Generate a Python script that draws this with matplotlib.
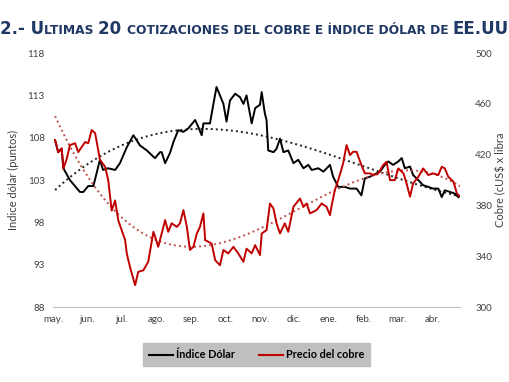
#!/usr/bin/env python3

# Ultimas cotizaciones del cobre e indice dolar: dos ejes Y, lineas de tendencia
# polinomicas punteadas (como las de Excel) y titulo en versalitas.

import numpy as np
import matplotlib
matplotlib.use("Agg")
import matplotlib.pyplot as plt
from matplotlib.lines import Line2D

MESES = ["may.", "jun.", "jul.", "ago.", "sep.", "oct.",
         "nov.", "dic.", "ene.", "feb.", "mar.", "abr."]

# posicion en meses desde el 1 de mayo, valor en puntos
# (los primeros dias quedan tapados por la linea del cobre)
dolar_mes = [0.06, 0.15, 0.25, 0.30, 0.49, 0.78, 0.88, 1.02, 1.17, 1.36, 1.45,
             1.59, 1.80, 1.94, 2.14, 2.33, 2.52, 2.72, 2.90, 2.96, 3.10, 3.15,
             3.25, 3.39, 3.49, 3.63, 3.78, 3.92, 4.12, 4.21, 4.31, 4.36, 4.55,
             4.65, 4.74, 4.84, 4.94, 5.03, 5.13, 5.28, 5.42, 5.52, 5.61, 5.76,
             5.86, 6.00, 6.05, 6.14, 6.19, 6.24, 6.39, 6.48, 6.58, 6.68, 6.82,
             6.97, 7.11, 7.26, 7.40, 7.50, 7.69, 7.84, 8.03, 8.12, 8.27, 8.46,
             8.61, 8.80, 8.94, 9.04, 9.19, 9.28, 9.48, 9.62, 9.72, 9.86, 10.01,
             10.11, 10.20, 10.35, 10.44, 10.59, 10.73, 10.88, 11.02, 11.17,
             11.27, 11.36, 11.51, 11.65, 11.75]
dolar_valor = [107.7, 106.3, 106.7, 104.4, 103.0, 101.6, 101.6, 102.3, 102.3,
               105.4, 104.2, 104.4, 104.2, 105.0, 106.9, 108.3, 107.1, 106.5,
               105.8, 105.6, 106.3, 106.3, 105.0, 106.2, 107.5, 108.9, 108.7,
               109.1, 110.1, 109.3, 108.3, 109.7, 109.7, 112.0, 114.0, 113.0,
               112.0, 109.9, 112.4, 113.2, 112.8, 112.0, 113.0, 109.7, 111.5,
               111.9, 113.4, 110.9, 110.1, 106.5, 106.3, 106.7, 107.9, 106.3,
               106.5, 105.0, 105.4, 104.4, 104.8, 104.2, 104.4, 104.0, 104.8,
               103.4, 102.2, 102.2, 102.0, 102.0, 101.2, 103.2, 103.4, 103.6,
               104.0, 104.8, 105.2, 104.8, 105.2, 105.6, 104.4, 104.6, 103.6,
               103.0, 102.4, 102.2, 102.0, 102.0, 101.0, 101.8, 101.6, 101.4,
               101.0]

# posicion en meses, valor en cUS$ por libra
cobre_mes = [0.06, 0.15, 0.25, 0.30, 0.40, 0.49, 0.64, 0.73, 0.93, 1.02, 1.12,
             1.22, 1.36, 1.51, 1.60, 1.70, 1.80, 1.89, 1.99, 2.09, 2.14, 2.23,
             2.38, 2.47, 2.62, 2.76, 2.91, 2.96, 3.05, 3.15, 3.25, 3.34, 3.44,
             3.59, 3.68, 3.78, 3.88, 3.97, 4.07, 4.17, 4.26, 4.36, 4.41, 4.60,
             4.70, 4.84, 4.94, 5.08, 5.23, 5.37, 5.52, 5.61, 5.76, 5.86, 6.00,
             6.05, 6.19, 6.29, 6.39, 6.48, 6.58, 6.72, 6.82, 6.97, 7.16, 7.26,
             7.35, 7.45, 7.64, 7.79, 7.93, 8.03, 8.08, 8.17, 8.27, 8.41, 8.51,
             8.61, 8.70, 8.80, 8.94, 9.04, 9.19, 9.28, 9.43, 9.57, 9.67, 9.77,
             9.91, 10.01, 10.16, 10.25, 10.35, 10.44, 10.59, 10.73, 10.88,
             11.02, 11.17, 11.27, 11.36, 11.46, 11.61, 11.71, 11.80]
cobre_valor = [431.5, 422.0, 425.0, 409.0, 417.0, 427.6, 429.0, 422.0, 430.0,
               429.0, 439.4, 437.0, 416.0, 410.5, 400.0, 376.0, 384.0, 368.5,
               360.6, 352.8, 342.0, 331.7, 317.3, 327.8, 329.0, 335.7, 359.3,
               355.4, 347.5, 358.0, 368.5, 359.3, 366.0, 363.2, 366.0, 376.4,
               363.2, 345.0, 347.5, 358.0, 363.2, 373.8, 352.8, 350.0, 337.0,
               333.0, 345.0, 342.3, 347.5, 342.3, 335.7, 346.0, 342.3, 348.8,
               341.0, 358.0, 360.6, 381.6, 377.7, 366.0, 358.0, 366.0, 359.3,
               379.0, 385.5, 379.0, 381.6, 373.8, 376.4, 381.6, 379.0, 372.4,
               380.3, 392.0, 400.0, 413.0, 427.6, 419.7, 422.3, 422.3, 411.8,
               405.3, 405.3, 404.0, 405.3, 411.8, 414.4, 400.0, 400.0, 409.2,
               405.3, 397.4, 387.0, 397.4, 402.6, 409.2, 404.0, 405.3, 404.0,
               410.5, 409.2, 402.6, 398.7, 389.5, 387.0]

TITULO = [("2.- U", True), ("LTIMAS ", False), ("20 ", True),
          ("COTIZACIONES DEL COBRE E ÍNDICE DÓLAR DE ", False), ("EE.UU", True)]

AZUL = "#1f3864"
ROJO = "#c00000"
ROJO_TEND = "#c0504d"
GRIS = "#bfbfbf"
TEXTO = "#404040"
FUENTE = ["Lato", "DejaVu Sans"]


# Tendencia polinomica sobre todo el periodo (inicio y fin comunes)
def tendencia(x, y, inicio, fin, grado=3):
	coef = np.polyfit(x, y, grado)
	xs = np.linspace(inicio, fin, 200)
	return xs, np.polyval(coef, xs)


def poner_piezas(fig, piezas, x0, y0, escala):
	renderer = fig.canvas.get_renderer()
	x = x0
	textos = []
	for texto, grande in piezas:
		t = fig.text(x, y0, texto, fontsize=(12.5 if grande else 9.2) * escala,
		             fontweight="bold", color=AZUL, va="baseline",
		             family="DejaVu Sans")
		bb = t.get_window_extent(renderer)
		x += bb.width / fig.bbox.width
		textos.append(t)
	return textos, x - x0


# Dibuja el titulo en versalitas y lo ajusta al ancho disponible
def dibujar_titulo(fig, piezas, x0, y0, ancho):
	textos, total = poner_piezas(fig, piezas, x0, y0, 1.0)
	for t in textos:
		t.remove()
	poner_piezas(fig, piezas, x0, y0, ancho / total)


def main():
	fig = plt.figure(figsize=(5.1, 3.82), dpi=100)
	ax = fig.add_axes([0.104, 0.196, 0.798, 0.665])
	ax2 = ax.twinx()

	ax.plot(dolar_mes, dolar_valor, color="black", lw=1.4, zorder=3)
	ax2.plot(cobre_mes, cobre_valor, color=ROJO, lw=1.4, zorder=3)

	inicio = min(dolar_mes[0], cobre_mes[0])
	fin = max(dolar_mes[-1], cobre_mes[-1])
	xs, ys = tendencia(dolar_mes, dolar_valor, inicio, fin)
	ax.plot(xs, ys, color="#222222", lw=1.4, ls=(0, (1, 1.6)), zorder=2)
	xs, ys = tendencia(cobre_mes, cobre_valor, inicio, fin)
	ax2.plot(xs, ys, color=ROJO_TEND, lw=1.4, ls=(0, (1, 1.6)), zorder=2)

	ax.set_xlim(0, 11.8)
	ax.set_ylim(88, 118)
	ax.set_yticks(range(88, 119, 5))
	ax2.set_ylim(300, 500)
	ax2.set_yticks(range(300, 501, 40))
	ax.set_xticks(range(len(MESES)))
	ax.set_xticklabels(MESES)

	for a in (ax, ax2):
		for s in a.spines.values():
			s.set_visible(False)
		a.tick_params(length=0, labelsize=7, labelcolor=TEXTO)
		for lab in a.get_xticklabels() + a.get_yticklabels():
			lab.set_family(FUENTE)
	ax.spines["bottom"].set_visible(True)
	ax.spines["bottom"].set_color(GRIS)
	ax.tick_params(axis="x", pad=6)
	ax.tick_params(axis="y", pad=6)
	ax2.tick_params(axis="y", pad=11)

	ax.set_ylabel("Indice dólar (puntos)", fontsize=8, color=TEXTO,
	              family=FUENTE, labelpad=6)
	ax2.set_ylabel("Cobre (cUS$ x libra", fontsize=8, color=TEXTO,
	               family=FUENTE, labelpad=2)

	handles = [Line2D([], [], color="black", lw=1.5),
	           Line2D([], [], color=ROJO, lw=1.5)]
	leg = fig.legend(handles, ["Índice Dólar", "Precio del cobre"],
	                 loc="center", bbox_to_anchor=(0.503, 0.071), ncol=2,
	                 frameon=True, fancybox=False, handlelength=2.2,
	                 handletextpad=0.3, columnspacing=2.2, borderpad=0.55,
	                 prop={"family": FUENTE, "weight": "bold", "size": 7.8})
	leg.get_frame().set_facecolor(GRIS)
	leg.get_frame().set_edgecolor(GRIS)
	leg.get_frame().set_alpha(1)

	dibujar_titulo(fig, TITULO, 0.0, 0.912, 0.994)

	fig.savefig("out.png", dpi=100)


if (__name__ == "__main__"):
	main()
